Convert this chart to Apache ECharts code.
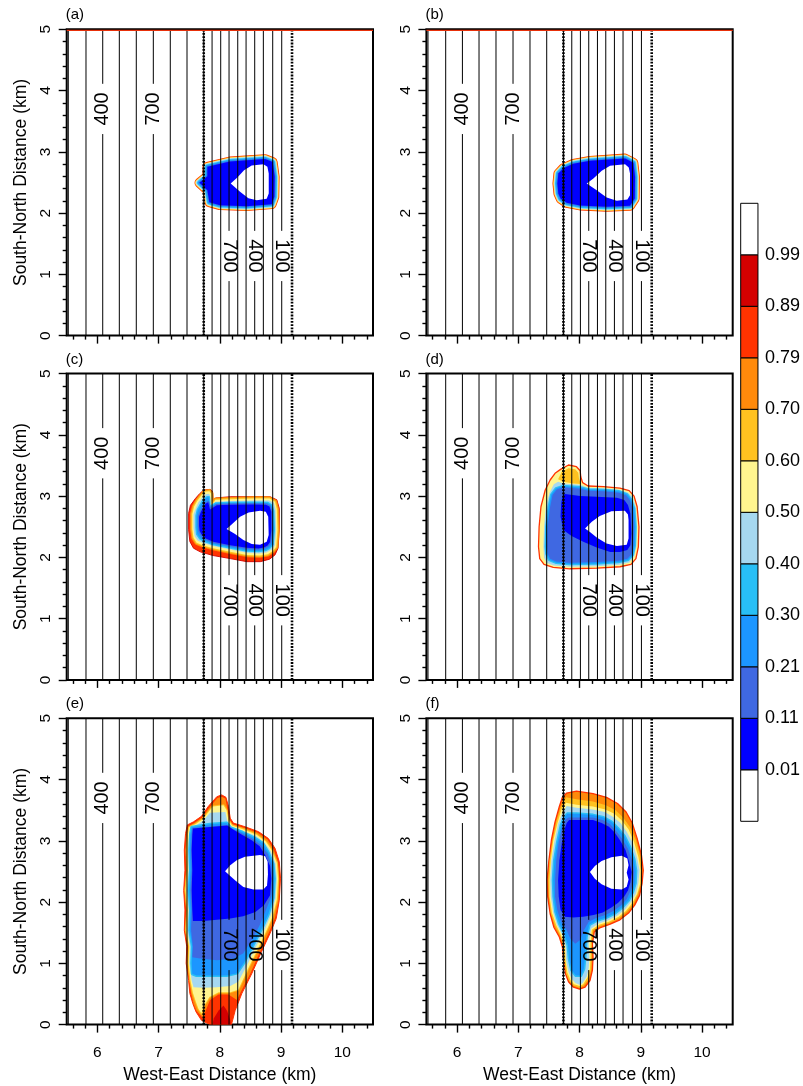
<!DOCTYPE html>
<html><head><meta charset="utf-8">
<script src="https://cdn.jsdelivr.net/npm/echarts@6/dist/echarts.min.js"></script>
<style>html,body{margin:0;padding:0;background:#fff}#c{width:803px;height:1086px}</style>
</head><body><div id="c"></div>
<script>
// ---------------- data ----------------
const X_RANGE = [5.5, 10.5];
const Y_RANGE = [0, 5];
const X_TICKS = [6, 7, 8, 9, 10];
const X_MINOR = [5.6,5.8,6.2,6.4,6.6,6.8,7.2,7.4,7.6,7.8,8.2,8.4,8.6,8.8,9.2,9.4,9.6,9.8,10.2,10.4];
const X_TITLE = 'West-East Distance (km)';
const Y_TITLE = 'South-North Distance (km)';
const PANEL_NAMES = ['(a)','(b)','(c)','(d)','(e)','(f)'];
const CONTOUR_X = [5.526,5.815,6.088,6.359,6.636,6.914,7.191,7.464,7.737,7.873,8.014,8.150,8.292,8.428,8.569,8.710,8.863,9.010];
const CONTOUR_LABEL_X = [6.088, 6.914, 8.150, 8.569, 9.010];
const CONTOUR_LABEL_Y = [3.70, 3.70, 1.30, 1.30, 1.30];
const CONTOUR_LABEL_TEXT = ['400','700','700','400','100'];
const DOTTED_X = [7.737, 9.178];
const TOP_EDGE = [[5.5, 4.982], [10.5, 4.982]];
const CB_LABELS = ['0.01','0.11','0.21','0.30','0.40','0.50','0.60','0.70','0.79','0.89','0.99'];

const A_BODY = [[7.796,2.755],[8.166,2.842],[8.738,2.881],[8.863,2.832],[8.896,2.592],[8.890,2.265],[8.847,2.145],[8.438,2.113],[8.003,2.129],[7.829,2.178],[7.796,2.374],[7.666,2.494],[7.796,2.603]];
const A_HOLE = [[8.177,2.483],[8.286,2.581],[8.395,2.701],[8.520,2.777],[8.711,2.799],[8.776,2.755],[8.798,2.646],[8.798,2.320],[8.765,2.232],[8.602,2.211],[8.466,2.243],[8.330,2.347]];

const B_BODY = [[7.654,2.646],[7.736,2.733],[7.899,2.804],[8.171,2.853],[8.743,2.891],[8.879,2.821],[8.906,2.592],[8.901,2.238],[8.824,2.118],[8.443,2.102],[8.008,2.124],[7.790,2.167],[7.692,2.232],[7.654,2.320],[7.638,2.483]];
const B_HOLE = [[8.117,2.483],[8.226,2.565],[8.362,2.690],[8.498,2.772],[8.743,2.799],[8.803,2.744],[8.824,2.646],[8.824,2.292],[8.781,2.222],[8.607,2.200],[8.443,2.254],[8.280,2.374]];

const C_OUTER = [[7.74,3.10],[7.84,3.11],[7.88,3.08],[7.89,2.88],[7.93,2.97],[8.17,2.99],[8.55,2.99],[8.82,2.99],[8.93,2.94],[8.97,2.80],[8.97,2.45],[8.95,2.15],[8.90,2.04],[8.81,1.97],[8.66,1.93],[8.44,1.93],[8.17,1.98],[7.89,2.03],[7.68,2.09],[7.57,2.15],[7.51,2.26],[7.49,2.45],[7.49,2.72],[7.52,2.85],[7.60,2.96],[7.67,3.04]];
const C_YEL = [[7.75,3.07],[7.83,3.08],[7.86,3.04],[7.87,2.86],[7.93,2.94],[8.17,2.95],[8.55,2.96],[8.81,2.96],[8.90,2.91],[8.93,2.79],[8.94,2.45],[8.92,2.17],[8.86,2.10],[8.78,2.05],[8.65,2.03],[8.44,2.04],[8.17,2.09],[7.89,2.15],[7.72,2.20],[7.62,2.24],[7.57,2.32],[7.55,2.46],[7.55,2.71],[7.58,2.83],[7.63,2.92],[7.69,3.00]];
const C_LB = [[7.77,3.03],[7.82,3.04],[7.84,3.01],[7.86,2.84],[7.93,2.91],[8.17,2.92],[8.55,2.93],[8.80,2.93],[8.88,2.89],[8.91,2.78],[8.92,2.45],[8.90,2.20],[8.85,2.13],[8.76,2.08],[8.64,2.065],[8.44,2.075],[8.17,2.13],[7.89,2.185],[7.73,2.23],[7.64,2.27],[7.59,2.34],[7.57,2.47],[7.57,2.70],[7.61,2.805],[7.65,2.90],[7.71,2.97]];
const C_DODGER = [[7.79,2.98],[7.82,2.98],[7.83,2.82],[7.94,2.88],[8.17,2.887],[8.55,2.89],[8.78,2.887],[8.84,2.85],[8.87,2.76],[8.88,2.446],[8.86,2.217],[8.81,2.157],[8.74,2.12],[8.63,2.103],[8.44,2.113],[8.17,2.162],[7.89,2.217],[7.75,2.271],[7.68,2.31],[7.63,2.38],[7.62,2.489],[7.62,2.68],[7.64,2.77],[7.69,2.86],[7.73,2.925]];
const C_BLUE = [[7.81,2.90],[7.84,2.78],[7.95,2.85],[8.17,2.86],[8.55,2.865],[8.75,2.86],[8.81,2.83],[8.84,2.745],[8.84,2.446],[8.82,2.25],[8.78,2.195],[8.72,2.162],[8.63,2.146],[8.44,2.157],[8.17,2.20],[7.89,2.255],[7.77,2.31],[7.71,2.36],[7.67,2.43],[7.66,2.51],[7.66,2.663],[7.69,2.74],[7.73,2.816],[7.77,2.88]];
const C_HOLE = [[8.11,2.462],[8.21,2.555],[8.33,2.663],[8.47,2.734],[8.656,2.761],[8.75,2.745],[8.79,2.663],[8.797,2.364],[8.765,2.255],[8.656,2.206],[8.52,2.217],[8.384,2.282],[8.248,2.38]];

const D_OUTER = [[7.69,3.437],[7.82,3.508],[7.95,3.48],[8.01,3.415],[8.02,3.317],[8.05,3.22],[8.14,3.165],[8.39,3.154],[8.66,3.132],[8.81,3.089],[8.89,3.00],[8.94,2.827],[8.97,2.50],[8.96,2.173],[8.92,1.98],[8.84,1.885],[8.66,1.847],[8.28,1.825],[7.84,1.814],[7.57,1.836],[7.42,1.885],[7.35,1.98],[7.33,2.173],[7.34,2.50],[7.37,2.827],[7.44,3.10],[7.52,3.263],[7.60,3.372]];
const D_GOLD = [[7.71,3.399],[7.82,3.453],[7.93,3.437],[7.98,3.383],[7.99,3.29],[8.02,3.198],[7.90,3.208],[7.735,3.236],[7.65,3.274]];
const D_LB = [[7.735,3.208],[8.01,3.187],[8.14,3.138],[8.39,3.127],[8.65,3.105],[8.79,3.061],[8.87,2.98],[8.92,2.816],[8.94,2.50],[8.93,2.184],[8.89,2.01],[8.81,1.917],[8.65,1.879],[8.28,1.857],[7.84,1.847],[7.58,1.868],[7.46,1.912],[7.42,1.999],[7.41,2.173],[7.42,2.50],[7.45,2.827],[7.51,3.056],[7.58,3.192],[7.65,3.236]];
const D_ROYAL = [[7.735,3.143],[8.01,3.121],[8.14,3.088],[8.39,3.078],[8.64,3.056],[8.76,3.012],[8.82,2.936],[8.87,2.794],[8.89,2.50],[8.88,2.20],[8.85,2.054],[8.78,1.977],[8.63,1.945],[8.28,1.923],[7.84,1.912],[7.62,1.934],[7.52,1.977],[7.48,2.064],[7.47,2.173],[7.48,2.50],[7.52,2.827],[7.56,3.018],[7.63,3.11]];
const D_BLUE = [[7.76,3.034],[8.01,3.001],[8.28,2.99],[8.61,2.974],[8.73,2.936],[8.79,2.854],[8.83,2.718],[8.845,2.391],[8.83,2.20],[8.78,2.119],[8.66,2.086],[8.50,2.086],[8.28,2.162],[8.06,2.255],[7.87,2.348],[7.735,2.446],[7.69,2.664],[7.70,2.882],[7.72,2.99]];
const D_HOLE = [[8.09,2.473],[8.20,2.582],[8.33,2.675],[8.52,2.751],[8.74,2.762],[8.79,2.70],[8.80,2.61],[8.80,2.31],[8.77,2.206],[8.61,2.184],[8.44,2.228],[8.28,2.326],[8.17,2.413]];

const E_OUTER = [[7.95,3.72],[8.03,3.75],[8.10,3.71],[8.14,3.56],[8.17,3.37],[8.22,3.29],[8.41,3.23],[8.63,3.15],[8.79,3.04],[8.90,2.88],[8.97,2.66],[8.99,2.39],[8.97,2.03],[8.92,1.73],[8.82,1.49],[8.68,1.19],[8.52,0.83],[8.36,0.51],[8.25,0.23],[8.19,0],[7.84,0],[7.70,0.07],[7.61,0.21],[7.56,0.34],[7.51,0.51],[7.49,0.72],[7.45,1.00],[7.46,1.27],[7.42,1.54],[7.43,1.87],[7.41,2.19],[7.43,2.52],[7.42,2.85],[7.44,3.12],[7.47,3.26],[7.57,3.31],[7.70,3.40],[7.81,3.56]];
const E_DARKRED = [[7.88,0],[7.90,0.10],[7.98,0.23],[8.06,0.31],[8.12,0.22],[8.17,0.07],[8.18,0]];
const E_WARM = [[7.96,3.70],[8.03,3.72],[8.09,3.69],[8.12,3.54],[8.15,3.35],[8.21,3.27],[8.41,3.21],[8.62,3.13],[8.78,3.02],[8.88,2.86],[8.95,2.65],[8.97,2.38],[8.96,2.03],[8.90,1.74],[8.80,1.50],[8.66,1.20],[8.50,0.84],[8.34,0.53],[8.28,0.40],[8.14,0.49],[7.98,0.49],[7.84,0.40],[7.77,0.23],[7.73,0.10],[7.62,0.22],[7.57,0.34],[7.53,0.51],[7.50,0.72],[7.46,1.00],[7.48,1.27],[7.43,1.54],[7.45,1.87],[7.42,2.19],[7.45,2.52],[7.44,2.85],[7.46,3.12],[7.49,3.24],[7.58,3.29],[7.71,3.38],[7.82,3.53]];
const E_YEL = [[7.89,3.56],[8.06,3.58],[8.11,3.50],[8.14,3.34],[8.20,3.25],[8.40,3.18],[8.60,3.10],[8.75,2.99],[8.85,2.84],[8.93,2.64],[8.95,2.38],[8.93,2.04],[8.86,1.76],[8.76,1.53],[8.62,1.24],[8.45,0.89],[8.30,0.57],[8.17,0.53],[7.98,0.53],[7.83,0.45],[7.73,0.29],[7.70,0.18],[7.65,0.26],[7.61,0.37],[7.56,0.52],[7.52,0.72],[7.49,1.00],[7.50,1.27],[7.45,1.54],[7.47,1.87],[7.44,2.19],[7.47,2.52],[7.46,2.85],[7.48,3.11],[7.50,3.22],[7.60,3.27],[7.73,3.36],[7.83,3.49]];
const E_LB = [[7.84,3.46],[8.09,3.47],[8.12,3.33],[8.19,3.23],[8.38,3.16],[8.59,3.08],[8.73,2.97],[8.83,2.83],[8.91,2.63],[8.93,2.38],[8.91,2.06],[8.83,1.78],[8.73,1.55],[8.59,1.27],[8.43,0.94],[8.30,0.70],[8.17,0.63],[7.95,0.61],[7.73,0.60],[7.57,0.61],[7.54,0.72],[7.50,1.00],[7.51,1.27],[7.47,1.54],[7.49,1.87],[7.46,2.19],[7.49,2.52],[7.48,2.85],[7.50,3.10],[7.52,3.21],[7.61,3.25],[7.73,3.33]];
const E_DODGER = [[7.54,3.22],[7.84,3.27],[8.11,3.29],[8.18,3.21],[8.37,3.14],[8.56,3.05],[8.70,2.96],[8.79,2.81],[8.87,2.62],[8.89,2.38],[8.87,2.07],[8.79,1.80],[8.69,1.58],[8.55,1.31],[8.40,1.02],[8.28,0.84],[8.11,0.80],[7.84,0.80],[7.62,0.80],[7.55,0.83],[7.54,1.00],[7.55,1.27],[7.51,1.54],[7.52,1.87],[7.50,2.19],[7.52,2.52],[7.51,2.85],[7.52,3.10]];
const E_ROYAL = [[7.55,3.21],[8.12,3.26],[8.20,3.20],[8.36,3.12],[8.54,3.03],[8.67,2.93],[8.78,2.79],[8.84,2.60],[8.86,2.38],[8.84,2.09],[8.74,1.84],[8.65,1.62],[8.52,1.38],[8.38,1.16],[8.22,1.08],[7.95,1.05],[7.68,1.08],[7.55,1.10],[7.56,1.27],[7.53,1.54],[7.54,1.87],[7.52,2.19],[7.54,2.52],[7.53,2.85],[7.54,3.10]];
const E_BLUE = [[7.56,3.20],[8.12,3.25],[8.21,3.19],[8.36,3.10],[8.52,3.01],[8.65,2.91],[8.74,2.77],[8.82,2.59],[8.84,2.38],[8.82,2.11],[8.72,1.95],[8.58,1.84],[8.38,1.77],[8.17,1.73],[7.95,1.71],[7.73,1.69],[7.56,1.69],[7.55,1.87],[7.54,2.19],[7.55,2.52],[7.54,2.85],[7.55,3.10]];
const E_HOLE = [[8.085,2.504],[8.17,2.60],[8.275,2.684],[8.41,2.74],[8.656,2.77],[8.74,2.75],[8.78,2.66],[8.785,2.45],[8.77,2.27],[8.71,2.205],[8.548,2.205],[8.384,2.248],[8.248,2.357],[8.156,2.439]];

const F_OUTER = [[7.79,3.78],[7.95,3.81],[8.22,3.77],[8.44,3.71],[8.62,3.61],[8.76,3.47],[8.86,3.29],[8.94,3.04],[9.01,2.77],[9.04,2.52],[9.02,2.30],[8.98,2.11],[8.90,1.95],[8.80,1.82],[8.66,1.71],[8.50,1.64],[8.33,1.58],[8.24,1.51],[8.21,1.32],[8.22,1.10],[8.21,0.89],[8.17,0.72],[8.09,0.61],[8.00,0.58],[7.90,0.61],[7.82,0.70],[7.77,0.83],[7.74,1.05],[7.72,1.27],[7.67,1.43],[7.58,1.59],[7.52,1.81],[7.48,2.09],[7.47,2.36],[7.50,2.68],[7.54,3.01],[7.60,3.31],[7.67,3.56],[7.72,3.71]];
const F_GOLD = [[7.78,3.71],[7.95,3.68],[8.22,3.64],[8.43,3.58],[8.59,3.50],[8.71,3.38],[8.82,3.23],[8.92,3.01],[8.99,2.75],[9.02,2.52],[9.00,2.30],[8.95,2.12],[8.88,1.97],[8.78,1.85],[8.65,1.74],[8.49,1.66],[8.33,1.61],[8.22,1.54],[8.20,1.32],[8.20,1.10],[8.19,0.90],[8.15,0.74],[8.07,0.64],[8.00,0.60],[7.90,0.64],[7.83,0.71],[7.78,0.84],[7.75,1.05],[7.74,1.27],[7.69,1.44],[7.60,1.61],[7.53,1.82],[7.50,2.09],[7.49,2.36],[7.51,2.68],[7.56,3.01],[7.62,3.31],[7.69,3.54]];
const F_YEL = [[7.78,3.62],[7.95,3.59],[8.22,3.56],[8.42,3.51],[8.57,3.44],[8.69,3.33],[8.80,3.19],[8.89,2.98],[8.96,2.74],[9.00,2.52],[8.99,2.30],[8.94,2.13],[8.86,1.98],[8.76,1.86],[8.64,1.76],[8.48,1.68],[8.32,1.63],[8.20,1.55],[8.18,1.32],[8.18,1.10],[8.17,0.91],[8.13,0.77],[8.06,0.66],[8.00,0.63],[7.91,0.66],[7.85,0.73],[7.80,0.85],[7.77,1.05],[7.76,1.27],[7.70,1.45],[7.62,1.62],[7.55,1.82],[7.51,2.09],[7.51,2.36],[7.53,2.68],[7.57,3.00],[7.64,3.29],[7.70,3.50]];
const F_LB = [[7.79,3.57],[7.95,3.54],[8.22,3.51],[8.41,3.47],[8.55,3.39],[8.67,3.29],[8.77,3.15],[8.87,2.96],[8.94,2.72],[8.98,2.52],[8.96,2.31],[8.92,2.14],[8.84,2.00],[8.74,1.88],[8.62,1.78],[8.46,1.70],[8.31,1.65],[8.19,1.57],[8.15,1.32],[8.16,1.10],[8.15,0.92],[8.12,0.79],[8.05,0.68],[8.00,0.65],[7.93,0.68],[7.87,0.75],[7.82,0.86],[7.78,1.05],[7.77,1.27],[7.72,1.46],[7.63,1.63],[7.57,1.83],[7.53,2.09],[7.52,2.36],[7.54,2.68],[7.59,2.99],[7.65,3.28],[7.72,3.46]];
const F_DODGER = [[7.80,3.44],[7.95,3.44],[8.22,3.42],[8.39,3.38],[8.52,3.31],[8.62,3.21],[8.73,3.08],[8.82,2.90],[8.89,2.70],[8.92,2.51],[8.91,2.31],[8.87,2.17],[8.80,2.03],[8.70,1.92],[8.58,1.82],[8.44,1.75],[8.28,1.70],[8.16,1.63],[8.11,1.43],[8.09,1.10],[8.07,0.91],[8.02,0.80],[7.94,0.80],[7.87,0.89],[7.83,1.08],[7.81,1.30],[7.75,1.49],[7.67,1.65],[7.61,1.84],[7.58,2.09],[7.57,2.36],[7.59,2.68],[7.64,2.98],[7.70,3.26],[7.75,3.38]];
const F_ROYAL = [[7.82,3.38],[8.22,3.38],[8.38,3.34],[8.50,3.27],[8.59,3.17],[8.69,3.04],[8.79,2.87],[8.86,2.67],[8.89,2.50],[8.88,2.32],[8.83,2.18],[8.77,2.05],[8.68,1.95],[8.56,1.86],[8.42,1.79],[8.27,1.74],[8.15,1.68],[8.07,1.54],[8.01,1.38],[7.93,1.32],[7.85,1.40],[7.79,1.54],[7.70,1.68],[7.64,1.86],[7.60,2.09],[7.60,2.36],[7.62,2.68],[7.66,2.97],[7.72,3.24],[7.77,3.35]];
const F_BLUE = [[7.83,3.34],[8.22,3.34],[8.36,3.29],[8.48,3.23],[8.57,3.14],[8.66,3.01],[8.75,2.85],[8.81,2.66],[8.85,2.49],[8.83,2.32],[8.79,2.19],[8.73,2.09],[8.63,1.99],[8.52,1.91],[8.38,1.83],[8.23,1.79],[8.06,1.76],[7.90,1.75],[7.76,1.76],[7.69,1.87],[7.66,2.09],[7.65,2.36],[7.67,2.68],[7.71,2.96],[7.76,3.20],[7.79,3.29]];
const F_HOLE = [[8.17,2.49],[8.25,2.59],[8.36,2.67],[8.52,2.73],[8.69,2.755],[8.78,2.71],[8.80,2.60],[8.77,2.48],[8.80,2.37],[8.77,2.25],[8.69,2.205],[8.52,2.216],[8.36,2.29],[8.25,2.38]];

// ---------------- styles / layout ----------------
const COL = {white:'#ffffff', blue:'#0000ff', royal:'#3f68e2', dodger:'#1c96ff', sky:'#28bff6', lb:'#a6d8f0',
             yellow:'#fff58f', gold:'#ffc220', orange:'#ff8a0b', red:'#ff3300', dark:'#d40000'};
const CB_FILL = ['white','blue','royal','dodger','sky','lb','yellow','gold','orange','red','dark','white'];
const FONT = '"Liberation Sans", Arial, Helvetica, sans-serif';
const GRID_LEFT = [66.7, 426.4];
const GRID_TOP = [29.3, 373.6, 718.3];
const GRID_W = 306.3, GRID_H = 306.3;
const LABEL_GAP = 0.41;
const THIN_RIM = [['red',0.6],['orange',0.3],['gold',0.3],['yellow',0.4],['lb',0.9],['sky',0.9],['dodger',0.9],['royal',0.6]];

const PANEL_LAYERS = [
  [{p:A_BODY, fill:'blue', rim:THIN_RIM}, {p:A_HOLE, fill:'white'}],
  [{p:B_BODY, fill:'blue', rim:THIN_RIM}, {p:B_HOLE, fill:'white'}],
  [{p:C_OUTER, fill:'red', stroke:['dark',0.9]}, {p:C_YEL, fill:'yellow', rim:[['orange',1.1],['gold',1.1]]},
   {p:C_LB, fill:'lb'}, {p:C_DODGER, fill:'dodger', rim:[['sky',1.3]]}, {p:C_BLUE, fill:'blue', rim:[['royal',1.2]]}, {p:C_HOLE, fill:'white'}],
  [{p:D_OUTER, fill:'yellow', stroke:['red',1.3]}, {p:D_GOLD, fill:'gold'}, {p:D_LB, fill:'lb'},
   {p:D_ROYAL, fill:'royal', rim:[['sky',1.3],['dodger',1.3]]}, {p:D_BLUE, fill:'blue'}, {p:D_HOLE, fill:'white'}],
  [{p:E_OUTER, fill:'red', stroke:['red',1]}, {p:E_DARKRED, fill:'dark'}, {p:E_WARM, fill:'orange'},
   {p:E_YEL, fill:'yellow', rim:[['gold',1]]}, {p:E_LB, fill:'lb'}, {p:E_DODGER, fill:'dodger', rim:[['sky',1.5]]},
   {p:E_ROYAL, fill:'royal'}, {p:E_BLUE, fill:'blue'}, {p:E_HOLE, fill:'white'}],
  [{p:F_OUTER, fill:'orange', stroke:['red',1.3]}, {p:F_GOLD, fill:'gold'}, {p:F_YEL, fill:'yellow'}, {p:F_LB, fill:'lb'},
   {p:F_DODGER, fill:'dodger', rim:[['sky',1.5]]}, {p:F_ROYAL, fill:'royal'}, {p:F_BLUE, fill:'blue'}, {p:F_HOLE, fill:'white'}]
];
const TOP_EDGE_PANELS = [0, 1];

const chart = echarts.init(document.getElementById('c'), null, {renderer:'canvas', width:803, height:1086});
const grids = [], xAxes = [], yAxes = [], series = [], graphics = [];
const tickStyle = {color:'#000', width:1.4};

function polygonSeries(gi, layer) {
  return {
    type:'custom', xAxisIndex: gi*2, yAxisIndex: gi, silent:true, clip:true, z:2, animation:false,
    data:[layer.p[0]],
    renderItem: function (params, api) {
      const pts = layer.p.map(function (pt) { return api.coord(pt); });
      const ch = [];
      if (layer.rim) {
        let cum = layer.rim.reduce(function (s, r) { return s + r[1]; }, 0);
        layer.rim.forEach(function (r) {
          ch.push({type:'polygon', shape:{points:pts}, style:{fill:'none', stroke:COL[r[0]], lineWidth:2*cum, lineJoin:'round'}});
          cum -= r[1];
        });
      }
      ch.push({type:'polygon', shape:{points:pts}, style:{fill:COL[layer.fill],
        stroke: layer.stroke ? COL[layer.stroke[0]] : 'none', lineWidth: layer.stroke ? layer.stroke[1] : 0, lineJoin:'round'}});
      return {type:'group', children:ch};
    }
  };
}

PANEL_NAMES.forEach(function (name, gi) {
  const col = gi % 2, row = Math.floor(gi / 2);
  const bottomRow = row === 2;
  grids.push({left:GRID_LEFT[col], top:GRID_TOP[row], width:GRID_W, height:GRID_H, show:true,
              borderColor:'#000', borderWidth:2, backgroundColor:'transparent'});
  xAxes.push({gridIndex:gi, type:'value', position:'bottom', min:X_RANGE[0], max:X_RANGE[1],
    axisLine:{show:false}, splitLine:{show:false},
    axisTick:{show:true, customValues:X_TICKS, length:8, lineStyle:tickStyle},
    axisLabel:{show:bottomRow, customValues:X_TICKS, fontSize:15.5, color:'#000', margin:20, fontFamily:FONT},
    name: bottomRow ? X_TITLE : '', nameLocation:'middle', nameGap:42,
    nameTextStyle:{fontSize:17.5, color:'#000', fontFamily:FONT}});
  xAxes.push({gridIndex:gi, type:'value', position:'bottom', offset:0, min:X_RANGE[0], max:X_RANGE[1],
    axisLine:{show:false}, splitLine:{show:false},
    axisTick:{show:true, customValues:X_MINOR, length:4, lineStyle:tickStyle},
    axisLabel:{show:false}});
  yAxes.push({gridIndex:gi, type:'value', min:Y_RANGE[0], max:Y_RANGE[1], interval:1,
    axisLine:{show:false}, splitLine:{show:false},
    axisTick:{show:true, length:8, lineStyle:tickStyle},
    minorTick:{show:true, splitNumber:5, length:4, lineStyle:tickStyle},
    axisLabel:{rotate:90, fontSize:15.5, color:'#000', margin:13, fontFamily:FONT},
    name: col === 0 ? Y_TITLE : '', nameLocation:'middle', nameGap:37,
    nameTextStyle:{fontSize:17.5, color:'#000', fontFamily:FONT}});

  PANEL_LAYERS[gi].forEach(function (layer) { series.push(polygonSeries(gi, layer)); });

  series.push({type:'custom', xAxisIndex:gi*2, yAxisIndex:gi, silent:true, z:3, animation:false,
    data: CONTOUR_X.map(function (x) { return [x, Y_RANGE[0]]; }),
    renderItem: function (params, api) {
      const x = api.value(0);
      const li = CONTOUR_LABEL_X.indexOf(x);
      const seg = function (y0, y1) {
        const a = api.coord([x, y0]), b = api.coord([x, y1]);
        return {type:'line', shape:{x1:a[0], y1:a[1], x2:b[0], y2:b[1]}, style:{stroke:'#000', lineWidth:1}};
      };
      if (li < 0) return seg(Y_RANGE[0], Y_RANGE[1]);
      const cy = CONTOUR_LABEL_Y[li];
      const c = api.coord([x, cy]);
      return {type:'group', children:[
        seg(Y_RANGE[0], cy - LABEL_GAP), seg(cy + LABEL_GAP, Y_RANGE[1]),
        {type:'text', x:c[0], y:c[1], rotation: cy > 2.5 ? Math.PI/2 : -Math.PI/2,
         style:{text:CONTOUR_LABEL_TEXT[li], fill:'#000', font:'20px ' + FONT, align:'center', verticalAlign:'middle'}}
      ]};
    }});

  series.push({type:'custom', xAxisIndex:gi*2, yAxisIndex:gi, silent:true, z:4, animation:false,
    data: DOTTED_X.map(function (x) { return [x, Y_RANGE[0]]; }),
    renderItem: function (params, api) {
      const x = api.value(0);
      const a = api.coord([x, Y_RANGE[0]]), b = api.coord([x, Y_RANGE[1]]);
      return {type:'line', shape:{x1:a[0], y1:a[1], x2:b[0], y2:b[1]},
              style:{stroke:'#000', lineWidth:2.6, lineDash:[1.8,1.4]}};
    }});

  if (TOP_EDGE_PANELS.indexOf(gi) >= 0) {
    series.push({type:'line', xAxisIndex:gi*2, yAxisIndex:gi, data:TOP_EDGE, symbol:'none', silent:true, z:4,
      animation:false, lineStyle:{color:'#e8300a', width:1.3}});
  }

  graphics.push({type:'text', x:GRID_LEFT[col] - 1, y:GRID_TOP[row] - 14,
    style:{text:name, font:'15px ' + FONT, fill:'#000', verticalAlign:'middle'}});
});

// colorbar
const cbIndex = PANEL_NAMES.length;
grids.push({left:740.7, top:203.3, width:18.6, height:618, show:false});
xAxes.push({gridIndex:cbIndex, type:'value', min:0, max:1, show:false});
yAxes.push({gridIndex:cbIndex, type:'value', min:0, max:CB_FILL.length, position:'right',
  axisLine:{show:false}, axisTick:{show:false}, splitLine:{show:false},
  axisLabel:{customValues: CB_LABELS.map(function (_, i) { return i + 1; }),
    formatter: function (v) { return CB_LABELS[Math.round(v) - 1] || ''; },
    fontSize:18, color:'#000', margin:7, fontFamily:FONT}});
series.push({type:'custom', xAxisIndex:xAxes.length - 1, yAxisIndex:cbIndex, silent:true, animation:false,
  data: CB_FILL.map(function (_, i) { return [0, i]; }),
  renderItem: function (params, api) {
    const i = api.value(1);
    const p0 = api.coord([0, i]), p1 = api.coord([1, i + 1]);
    return {type:'rect', shape:{x:p0[0], y:p1[1], width:p1[0]-p0[0], height:p0[1]-p1[1]},
            style:{fill:COL[CB_FILL[i]], stroke:'#000', lineWidth:1}};
  }});

chart.setOption({
  animation:false,
  backgroundColor:'#fff',
  textStyle:{fontFamily:FONT},
  grid:grids, xAxis:xAxes, yAxis:yAxes, series:series, graphic:graphics
});
</script></body></html>
